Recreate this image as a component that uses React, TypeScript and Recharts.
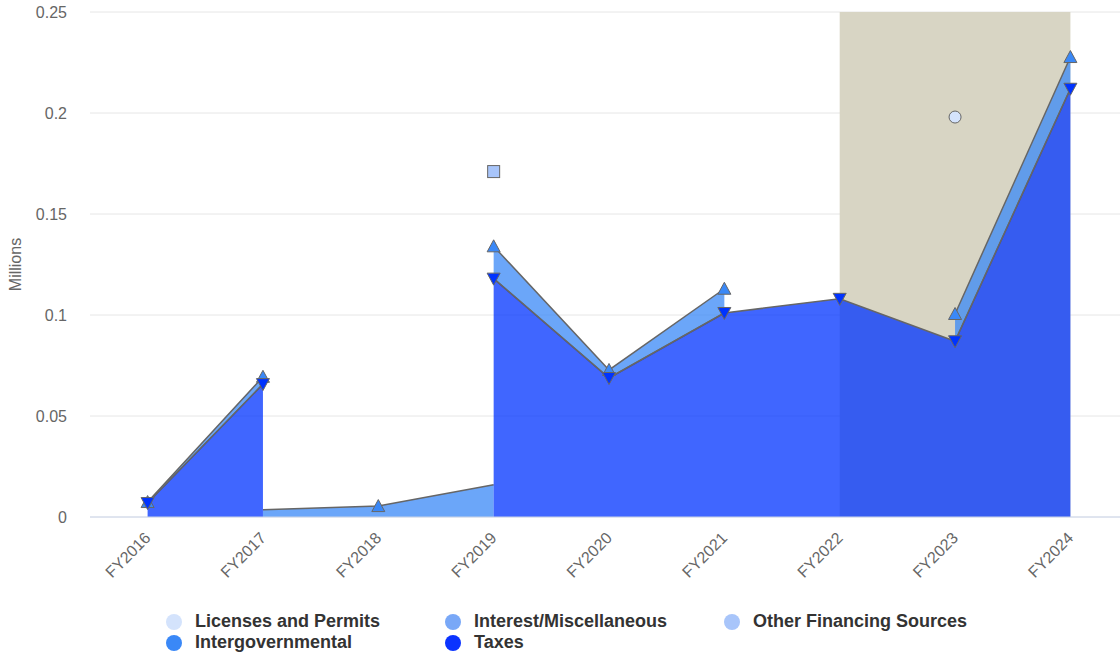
import React from 'react';
import { AreaChart, Area, XAxis, YAxis, CartesianGrid, ReferenceArea } from 'recharts';

const categories = ['FY2016', 'FY2017', 'FY2018', 'FY2019', 'FY2020', 'FY2021', 'FY2022', 'FY2023', 'FY2024'];

// values in millions (each is the series' own slice)
const taxes = [0.0069, 0.0658, null, 0.118, 0.0688, 0.101, 0.108, 0.087, 0.212];
const intergovernmental = [0.0005, 0.0036, 0.0054, 0.016, 0.004, 0.012, null, 0.0135, 0.0157];
const otherFinancingSources = [null, null, null, 0.037, null, null, null, null, null];
const interestMiscellaneous = [null, null, null, null, null, null, null, null, null];
const licensesAndPermits = [null, null, null, null, null, null, null, 0.0975, null];

const yTicks = [0, 0.05, 0.1, 0.15, 0.2, 0.25];

const legendNames = [
  'Licenses and Permits',
  'Interest/Miscellaneous',
  'Other Financing Sources',
  'Intergovernmental',
  'Taxes',
];
const legendColors = ['#d4e3fc', '#79a8f7', '#a8c5fa', '#3a88f7', '#0a33ff'];

const FONT = '"Liberation Sans", Arial, Helvetica, sans-serif';

// bottom -> top stacking order
const layers = [taxes, intergovernmental, otherFinancingSources, interestMiscellaneous, licensesAndPermits];
const baseAt = (level: number, i: number) => {
  let s = 0;
  for (let l = 0; l < level; l++) s += layers[l][i] ?? 0;
  return s;
};
const stackedRange = (level: number, i: number) => {
  const v = layers[level][i];
  if (v == null) return null;
  const b = baseAt(level, i);
  return [b, b + v];
};

const data = categories.map((name, i) => ({
  name,
  taxes: taxes[i],
  igStacked: taxes[i] != null && intergovernmental[i] != null ? [taxes[i] as number, (taxes[i] as number) + (intergovernmental[i] as number)] : null,
  // where taxes are missing the slice sits on the axis (with cliffs on both sides)
  igAlone:
    intergovernmental[i] != null && (taxes[i] == null || taxes[i - 1] === null || taxes[i + 1] === null)
      ? intergovernmental[i]
      : null,
  other: stackedRange(2, i),
  interest: stackedRange(3, i),
  licenses: stackedRange(4, i),
}));

const empty = (p: any) => <g key={`e-${p.index}`} />;

const triUp = (fill: string, onlyIf?: (i: number) => boolean) => (p: any) => {
  const { cx, cy, index } = p;
  if (cx == null || cy == null || (onlyIf && !onlyIf(index))) return empty(p);
  const r = 6.5;
  return (
    <path key={`u-${index}`} d={`M${cx},${cy - r} L${cx + r},${cy + r - 1} L${cx - r},${cy + r - 1} Z`} fill={fill} stroke="#666" strokeWidth={1} />
  );
};

const triDown = (fill: string) => (p: any) => {
  const { cx, cy, index } = p;
  if (cx == null || cy == null) return empty(p);
  const r = 6.5;
  return (
    <path key={`d-${index}`} d={`M${cx - r},${cy - r + 1} L${cx + r},${cy - r + 1} L${cx},${cy + r} Z`} fill={fill} stroke="#666" strokeWidth={1} />
  );
};

const square = (fill: string) => (p: any) => {
  const { cx, cy, index } = p;
  if (cx == null || cy == null) return empty(p);
  return <rect key={`s-${index}`} x={cx - 6} y={cy - 6} width={12} height={12} fill={fill} stroke="#666" strokeWidth={1} />;
};

const circle = (fill: string) => (p: any) => {
  const { cx, cy, index } = p;
  if (cx == null || cy == null) return empty(p);
  return <circle key={`c-${index}`} cx={cx} cy={cy} r={6} fill={fill} stroke="#666" strokeWidth={1} />;
};

const XTick = ({ x, y, payload }: any) => (
  <text
    x={x + 4}
    y={y + 14}
    transform={`rotate(-45, ${x + 4}, ${y + 14})`}
    textAnchor="end"
    fill="#666"
    fontSize={16}
    fontFamily={FONT}
  >
    {payload.value}
  </text>
);

const Legend = () => (
  <div
    style={{
      position: 'absolute',
      left: 166,
      top: 611,
      width: 840,
      display: 'flex',
      flexWrap: 'wrap',
      fontFamily: FONT,
      fontWeight: 'bold',
      fontSize: 18,
      color: '#333',
    }}
  >
    {legendNames.map((n, i) => (
      <div key={n} style={{ width: 279, height: 21, display: 'flex', alignItems: 'center' }}>
        <span style={{ width: 16, height: 16, borderRadius: 8, background: legendColors[i], marginRight: 13, flex: 'none' }} />
        <span style={{ lineHeight: '21px', whiteSpace: 'nowrap' }}>{n}</span>
      </div>
    ))}
  </div>
);

export default function App() {
  return (
    <div style={{ position: 'absolute', left: 0, top: 0, width: 1120, height: 654, overflow: 'hidden', background: '#fff' }}>
      <AreaChart width={1130} height={654} data={data} margin={{ top: 12, right: 2, left: 0, bottom: 0 }}>
        <CartesianGrid vertical={false} stroke="#e6e6e6" />
        <ReferenceArea x1="FY2022" x2="FY2024" y1={0} y2={0.25} fill="#d8d5c4" fillOpacity={1} stroke="none" />
        <XAxis
          dataKey="name"
          height={137}
          padding={{ left: 57.6, right: 57.6 }}
          axisLine={{ stroke: '#ccd6eb' }}
          tickLine={false}
          tick={<XTick />}
          interval={0}
        />
        <YAxis
          width={90}
          domain={[0, 0.25]}
          ticks={yTicks}
          axisLine={false}
          tickLine={false}
          tickMargin={17}
          tick={{ fill: '#666', fontSize: 16, fontFamily: FONT }}
          label={{
            value: 'Millions',
            angle: -90,
            position: 'insideLeft',
            offset: 15,
            style: { textAnchor: 'middle', fill: '#666', fontSize: 16, fontFamily: FONT },
          }}
        />
        <Area
          dataKey="igAlone"
          type="linear"
          fill="#3a88f7"
          fillOpacity={0.75}
          stroke="#666"
          strokeWidth={1.5}
          dot={triUp('#3a88f7', (i) => taxes[i] == null)}
          activeDot={false}
          isAnimationActive={false}
        />
        <Area
          dataKey="igStacked"
          type="linear"
          fill="#3a88f7"
          fillOpacity={0.75}
          stroke="#666"
          strokeWidth={1.5}
          dot={triUp('#3a88f7')}
          activeDot={false}
          isAnimationActive={false}
        />
        <Area
          dataKey="taxes"
          type="linear"
          fill="#0033ff"
          fillOpacity={0.75}
          stroke="#666"
          strokeWidth={1.5}
          dot={triDown('#0033ff')}
          activeDot={false}
          isAnimationActive={false}
        />
        <Area
          dataKey="other"
          type="linear"
          fill="#a8c5fa"
          fillOpacity={0.75}
          stroke="#666"
          strokeWidth={1.5}
          dot={square('#a8c5fa')}
          activeDot={false}
          isAnimationActive={false}
        />
        <Area
          dataKey="interest"
          type="linear"
          fill="#79a8f7"
          fillOpacity={0.75}
          stroke="#666"
          strokeWidth={1.5}
          dot={circle('#79a8f7')}
          activeDot={false}
          isAnimationActive={false}
        />
        <Area
          dataKey="licenses"
          type="linear"
          fill="#d4e3fc"
          fillOpacity={0.75}
          stroke="#666"
          strokeWidth={1.5}
          dot={circle('#d4e3fc')}
          activeDot={false}
          isAnimationActive={false}
        />
      </AreaChart>
      <Legend />
    </div>
  );
}
